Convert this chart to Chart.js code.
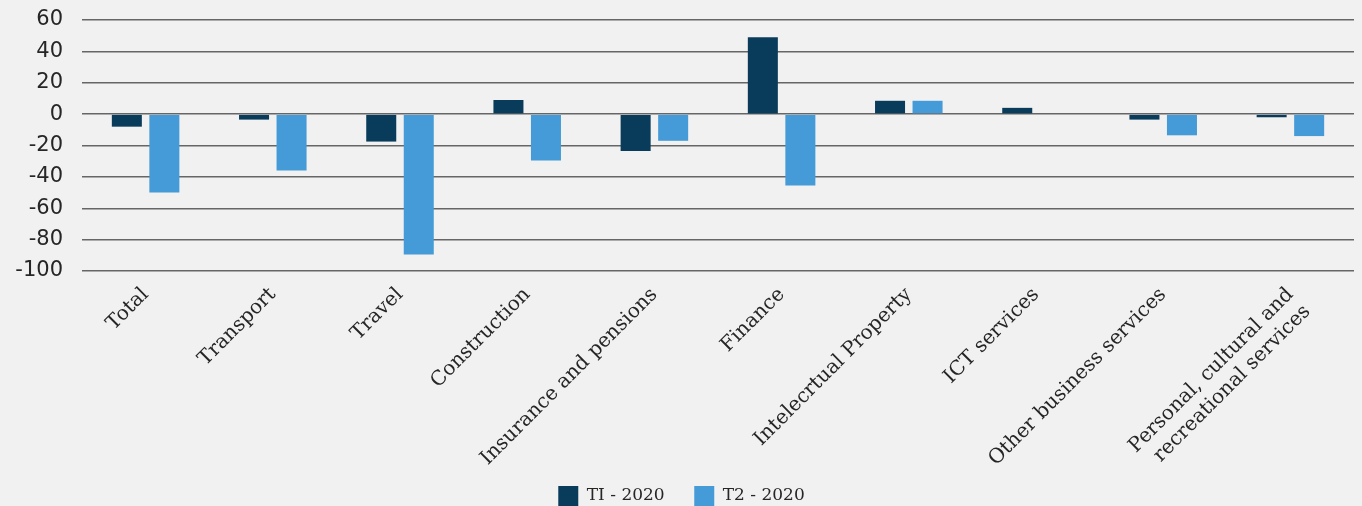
<!DOCTYPE html>
<html>
<head>
<meta charset="utf-8">
<script src="https://cdn.jsdelivr.net/npm/chart.js@4.4.1/dist/chart.umd.min.js"></script>
<style>
  html, body { margin: 0; padding: 0; background: #f1f1f1; overflow: hidden; }
  #wrap { width: 1362px; height: 516px; }
</style>
</head>
<body>
<div id="wrap"><canvas id="myChart" width="1362" height="516"></canvas></div>
<script>
const categories = [
  'Total', 'Transport', 'Travel', 'Construction', 'Insurance and pensions',
  'Finance', 'Intelecrtual Property', 'ICT services', 'Other business services',
  ['Personal, cultural and', 'recreational services']
];
const t1 = [-8, -3.5, -17.5, 9, -23.5, 49, 8.5, 4, -3.5, -2];
const t2 = [-50, -36, -89.5, -29.5, -17, -45.5, 8.5, null, -13.5, -14];
const seriesNames = ['TI - 2020', 'T2 - 2020'];

const ctx = document.getElementById('myChart');

const data = {
  labels: categories,
  datasets: [
    { label: seriesNames[0], data: t1, backgroundColor: '#093c5a' },
    { label: seriesNames[1], data: t2, backgroundColor: '#459bd7' }
  ]
};

const config = {
  type: 'bar',
  data: data,
  options: {
    responsive: false,
    animation: false,
    layout: { padding: { top: 20, right: 8, left: 9, bottom: 0 } },
    datasets: {
      bar: { categoryPercentage: 0.59, barPercentage: 0.8 }
    },
    scales: {
      x: {
        grid: { display: false },
        border: { display: false },
        ticks: {
          minRotation: 45,
          maxRotation: 45,
          color: '#262626',
          font: { family: 'DejaVu Serif', size: 20 },
          padding: 4
        },
        afterFit: (axis) => { axis.height = 205; }
      },
      y: {
        min: -100,
        max: 60,
        grid: { color: '#666666', lineWidth: 1.5, drawTicks: false },
        border: { display: false },
        ticks: {
          stepSize: 20,
          color: '#262626',
          font: { family: 'DejaVu Sans', size: 21 },
          padding: 19
        },
        afterFit: (axis) => {
          axis.width = 73;
          axis.paddingTop = 0;
          axis.paddingBottom = 0;
        }
      }
    },
    plugins: {
      legend: {
        position: 'bottom',
        labels: {
          boxWidth: 20,
          boxHeight: 20,
          padding: 10,
          color: '#262626',
          font: { family: 'DejaVu Serif', size: 17 },
          // wider gap between the two legend entries
          generateLabels: (chart) => {
            const items = Chart.defaults.plugins.legend.labels.generateLabels(chart);
            items[0].text += '   \u2009';
            return items;
          }
        }
      },
      tooltip: { enabled: false }
    }
  }
};

new Chart(ctx, config);
</script>
</body>
</html>
